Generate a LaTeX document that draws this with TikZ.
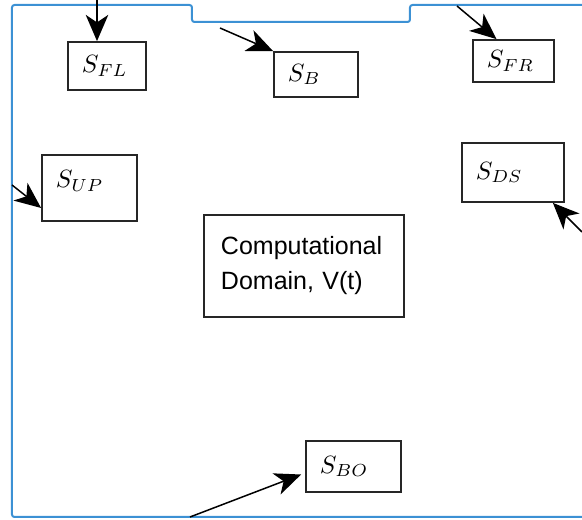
\documentclass[tikz,border=0pt]{standalone}
\usepackage{fontspec}
\newfontfamily\arialfont{Liberation Sans}
\usepackage{tikz}
\usetikzlibrary{calc,arrows.meta}
\definecolor{wallblue}{RGB}{60,145,212}

\begin{document}
\begin{tikzpicture}[x=0.4pt,y=-0.4pt,
        srcbox/.style={draw=black!85,line width=0.7pt,align=left,inner xsep=5.6pt,inner ysep=0pt},
        inflow/.style={-{Stealth[length=10.5pt,width=9pt,inset=3pt]},line width=0.6pt}]
        \useasboundingbox (0,0) rectangle (582,520);
        % boundary of the domain
        \draw[wallblue,line width=0.8pt,rounded corners=1pt] (582,5) -- (410,5) -- (410,22) -- (192,22) -- (192,5) -- (12,5) -- (12,517) -- (582,517);

        \node[srcbox,text width=20pt,minimum height=19.2pt] (FL) at (107,66) {$S_{FL}$};
        \node[srcbox,text width=22.4pt,minimum height=18pt] (B) at (316,74.5) {$S_{B}$};
        \node[srcbox,text width=21.2pt,minimum height=16.8pt] (FR) at (513.5,61) {$S_{FR}$};
        \node[srcbox,text width=26.8pt,minimum height=26.4pt,text depth=7pt] (UP) at (89.5,188) {$S_{UP}$};
        \node[srcbox,text width=29.6pt,minimum height=23.6pt] (DS) at (513,172.5) {$S_{DS}$};
        \node[srcbox,text width=26.8pt,minimum height=20.4pt] (BO) at (353.5,466.5) {$S_{BO}$};
        \node[srcbox,inner xsep=6.8pt,text width=66.4pt,minimum height=40.8pt,
              font=\arialfont\fontsize{10}{14}\selectfont] (CD) at (304,266) {Computational\\Domain, V(t)};

        \coordinate (tFL) at (97,0);
        \coordinate (tB) at (220,28);
        \coordinate (tFR) at (457,6);
        \coordinate (tUP) at (12,185);
        \coordinate (tDS) at (582,232);
        \coordinate (tBO) at (190,517);

        \draw[inflow] (tFL) -- (tFL |- FL.north);
        \draw[inflow] (tB) -- (B.north west);
        \draw[inflow] (tFR) -- ($(FR.north)+(-17,0)$);
        \draw[inflow] (tUP) -- ($(UP.west)+(0,20)$);
        \draw[inflow] (tDS) -- ($(DS.south east)+(-12,0)$);
        \draw[inflow] (tBO) -- ($(BO.west)+(-4,8)$);
    \end{tikzpicture}
\end{document}
